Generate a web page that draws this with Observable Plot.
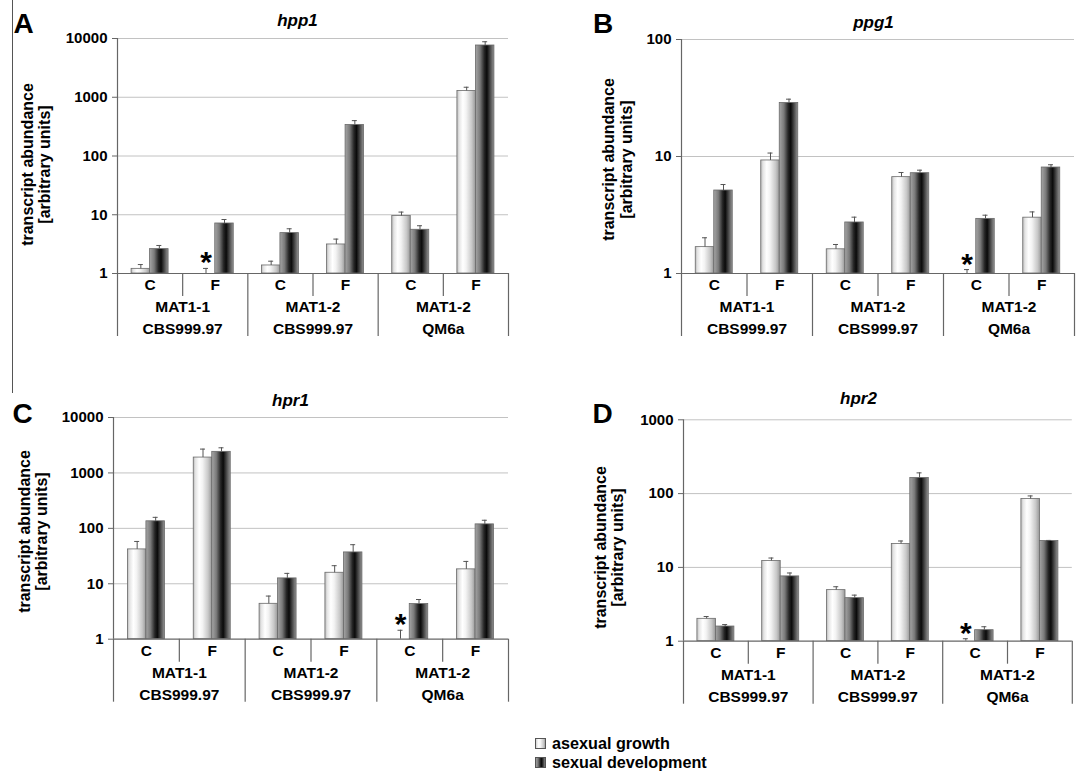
<!DOCTYPE html>
<html>
<head>
<meta charset="utf-8">
<script src="https://cdn.jsdelivr.net/npm/d3@7"></script>
<script src="https://cdn.jsdelivr.net/npm/@observablehq/plot@0.6"></script>
<style>
  html, body { margin: 0; padding: 0; background: #fff; }
  #page { position: relative; width: 1089px; height: 776px; overflow: hidden; background: #fff;
          font-family: "Liberation Sans", Arial, sans-serif; }
  .panel { position: absolute; }
  .panel svg { max-width: none !important; }
  #edge { position: absolute; left: 11.5px; top: 0; width: 1.3px; height: 393px; background: #555; }
  .legend-row { position: absolute; left: 535px; height: 18px; display: flex; align-items: center;
                font-weight: bold; font-size: 16.2px; color: #000; white-space: nowrap; }
  .legend-row svg { margin-right: 6px; }
</style>
</head>
<body>
<svg width="0" height="0" style="position:absolute">
  <defs>
    <linearGradient id="gLight" x1="0" x2="1" y1="0" y2="0">
      <stop offset="0" stop-color="#b9b9b9"/>
      <stop offset="0.12" stop-color="#e4e4e4"/>
      <stop offset="0.32" stop-color="#ffffff"/>
      <stop offset="0.5" stop-color="#f3f3f3"/>
      <stop offset="0.8" stop-color="#c8c8c8"/>
      <stop offset="1" stop-color="#999999"/>
    </linearGradient>
    <linearGradient id="gDark" x1="0" x2="1" y1="0" y2="0">
      <stop offset="0" stop-color="#a6a6a6"/>
      <stop offset="0.25" stop-color="#7a7a7a"/>
      <stop offset="0.48" stop-color="#262626"/>
      <stop offset="0.62" stop-color="#0a0a0a"/>
      <stop offset="0.8" stop-color="#4a4a4a"/>
      <stop offset="1" stop-color="#939393"/>
    </linearGradient>
  </defs>
</svg>
<div id="page">
  <div id="edge"></div>
</div>
<script>
// ---------------- data ----------------
const conditions = ["C", "F", "C", "F", "C", "F"];
const categoryGroup = [0, 0, 1, 1, 2, 2];
const matingTypes = ["MAT1-1", "MAT1-2", "MAT1-2"];
const strains = ["CBS999.97", "CBS999.97", "QM6a"];
const seriesNames = ["asexual growth", "sexual development"];

// hpp1 (A)
const hpp1Ticks = [1, 10, 100, 1000, 10000];
const hpp1Asexual    = [1.2, null, 1.37, 3.12, 9.5, 1280];
const hpp1AsexualErr = [1.42, 1.22, 1.62, 3.85, 11.1, 1480];
const hpp1Sexual     = [2.6, 7.1, 4.87, 337, 5.55, 7600];
const hpp1SexualErr  = [3.0, 8.3, 5.77, 400, 6.5, 8800];

// ppg1 (B)
const ppg1Ticks = [1, 10, 100];
const ppg1Asexual    = [1.68, 9.25, 1.61, 6.66, null, 3.0];
const ppg1AsexualErr = [2.02, 10.7, 1.77, 7.3, 1.08, 3.36];
const ppg1Sexual     = [5.12, 28.7, 2.73, 7.2, 2.93, 8.05];
const ppg1SexualErr  = [5.76, 30.9, 3.03, 7.64, 3.15, 8.5];

// hpr1 (C)
const hpr1Ticks = [1, 10, 100, 1000, 10000];
const hpr1Asexual    = [41.7, 1893, 4.35, 15.8, null, 18.2];
const hpr1AsexualErr = [58, 2690, 6.0, 21.2, 1.45, 25.3];
const hpr1Sexual     = [134, 2400, 12.5, 36.8, 4.3, 118];
const hpr1SexualErr  = [158, 2840, 15.4, 50.7, 5.2, 140];

// hpr2 (D)
const hpr2Ticks = [1, 10, 100, 1000];
const hpr2Asexual    = [2.01, 12.2, 4.92, 20.8, null, 84.5];
const hpr2AsexualErr = [2.16, 13.4, 5.47, 22.8, 1.08, 93];
const hpr2Sexual     = [1.58, 7.55, 3.83, 163, 1.41, 22.8];
const hpr2SexualErr  = [1.68, 8.4, 4.21, 191, 1.57, 23.2];

// ---------------- layout ----------------
const panels = [
  { gene: "hpp1", letter: "A", ticks: hpp1Ticks, asex: hpp1Asexual, asexErr: hpp1AsexualErr, sex: hpp1Sexual, sexErr: hpp1SexualErr,
    box: { left: 0, top: 0, width: 545, height: 370, marginLeft: 117, marginRight: 37, marginTop: 38, marginBottom: 97 },
    letterPos: [23, 24], titlePos: [297, 20], ylabelPos: [27, 44, 164] },
  { gene: "ppg1", letter: "B", ticks: ppg1Ticks, asex: ppg1Asexual, asexErr: ppg1AsexualErr, sex: ppg1Sexual, sexErr: ppg1SexualErr,
    box: { left: 545, top: 0, width: 544, height: 370, marginLeft: 136, marginRight: 15, marginTop: 39, marginBottom: 97 },
    letterPos: [57.5, 24], titlePos: [328, 22], ylabelPos: [63, 81, 159] },
  { gene: "hpr1", letter: "C", ticks: hpr1Ticks, asex: hpr1Asexual, asexErr: hpr1AsexualErr, sex: hpr1Sexual, sexErr: hpr1SexualErr,
    box: { left: 0, top: 370, width: 545, height: 370, marginLeft: 113, marginRight: 37, marginTop: 47, marginBottom: 101.3 },
    letterPos: [22, 44], titlePos: [290, 30], ylabelPos: [24, 41, 161] },
  { gene: "hpr2", letter: "D", ticks: hpr2Ticks, asex: hpr2Asexual, asexErr: hpr2AsexualErr, sex: hpr2Sexual, sexErr: hpr2SexualErr,
    box: { left: 545, top: 370, width: 544, height: 370, marginLeft: 138, marginRight: 17.2, marginTop: 49.3, marginBottom: 99.3 },
    letterPos: [57, 44], titlePos: [313, 28], ylabelPos: [55, 72, 177] }
];

const FONT = "Liberation Sans, Arial, Helvetica, sans-serif";
const BAR_W = 18.5;
const CAP_HALF = 2.5;
const INNER_SEP = 23;
const GROUP_SEP = 63;

function makePanel(cfg) {
  const { box, ticks } = cfg;
  const keys = conditions.map((c, i) => String(i));
  const frameW = box.width - box.marginLeft - box.marginRight;
  const bw = frameW / keys.length;
  const pad = bw / 2 - BAR_W;
  const base = ticks[0];
  const rows = keys.map((key, i) => ({
    key, i, cond: conditions[i], group: categoryGroup[i],
    asex: cfg.asex[i], asexErr: cfg.asexErr[i], sex: cfg.sex[i], sexErr: cfg.sexErr[i]
  }));
  const isStart = (d) => d.i === 0 || categoryGroup[d.i] !== categoryGroup[d.i - 1];
  const starts = rows.filter(isStart);
  const inners = rows.filter((d) => !isStart(d));
  const local = ([x, y]) => ({ frameAnchor: "top-left", dx: x - box.marginLeft, dy: y - box.marginTop });
  const txt = { fontFamily: FONT, fontWeight: "bold", fill: "#000" };

  return Plot.plot({
    width: box.width, height: box.height,
    marginLeft: box.marginLeft, marginRight: box.marginRight,
    marginTop: box.marginTop, marginBottom: box.marginBottom,
    style: { fontFamily: FONT, fontSize: "15px", fontWeight: "bold", background: "transparent", overflow: "visible", color: "#000", maxWidth: "none" },
    x: { type: "band", domain: keys, padding: 0, round: false, axis: null },
    y: { type: "log", domain: [base, ticks[ticks.length - 1]], axis: null },
    marks: [
      Plot.gridY(ticks.filter((t) => t > base), { stroke: "#c2c2c2", strokeOpacity: 1, strokeWidth: 1 }),
      // bars
      Plot.barY(rows.filter((d) => d.asex != null), {
        x: "key", y1: () => base, y2: "asex", fill: "url(#gLight)", stroke: "#6a6a6a", strokeWidth: 0.8,
        insetLeft: pad, insetRight: bw / 2
      }),
      Plot.barY(rows.filter((d) => d.sex != null), {
        x: "key", y1: () => base, y2: "sex", fill: "url(#gDark)", stroke: "#6a6a6a", strokeWidth: 0.8,
        insetLeft: bw / 2, insetRight: pad
      }),
      // error bars
      Plot.ruleX(rows, { x: "key", y1: (d) => d.asex ?? base, y2: "asexErr", dx: -BAR_W / 2, stroke: "#555", strokeWidth: 1 }),
      Plot.tickY(rows, { x: "key", y: "asexErr", insetLeft: bw / 2 - BAR_W / 2 - CAP_HALF, insetRight: bw / 2 + BAR_W / 2 - CAP_HALF, stroke: "#555", strokeWidth: 1 }),
      Plot.ruleX(rows, { x: "key", y1: "sex", y2: "sexErr", dx: BAR_W / 2, stroke: "#555", strokeWidth: 1 }),
      Plot.tickY(rows, { x: "key", y: "sexErr", insetLeft: bw / 2 + BAR_W / 2 - CAP_HALF, insetRight: bw / 2 - BAR_W / 2 - CAP_HALF, stroke: "#555", strokeWidth: 1 }),
      // asterisks for undetected transcripts
      Plot.text(rows.filter((d) => d.asex == null), {
        x: "key", y: "asexErr", text: () => "*", dx: -BAR_W / 2, dy: 4, lineAnchor: "bottom",
        fontSize: 30, ...txt
      }),
      // axes lines
      Plot.ruleY([base], { stroke: "#666", strokeWidth: 1.2 }),
      Plot.ruleX([keys[0]], { dx: -bw / 2, stroke: "#666", strokeWidth: 1.2 }),
      Plot.ruleX(starts, { x: "key", y1: () => base, y2: () => base, insetBottom: -GROUP_SEP, dx: -bw / 2, stroke: "#666", strokeWidth: 1.2 }),
      Plot.ruleX([keys[keys.length - 1]], { y1: () => base, y2: () => base, insetBottom: -GROUP_SEP, dx: bw / 2, stroke: "#666", strokeWidth: 1.2 }),
      Plot.ruleX(inners, { x: "key", y1: () => base, y2: () => base, insetBottom: -INNER_SEP, dx: -bw / 2, stroke: "#666", strokeWidth: 1.2 }),
      // category labels
      Plot.text(rows, { x: "key", y: () => base, text: "cond", dy: 11.5, lineAnchor: "middle", fontSize: 15.5, ...txt }),
      Plot.text(starts, { x: "key", y: () => base, text: (d) => matingTypes[d.group], dx: bw / 2, dy: 34, lineAnchor: "middle", fontSize: 15.5, ...txt }),
      Plot.text(starts, { x: "key", y: () => base, text: (d) => strains[d.group], dx: bw / 2, dy: 55.5, lineAnchor: "middle", fontSize: 15.5, ...txt }),
      // y axis
      Plot.axisY({ ticks, tickFormat: d3.format("d"), tickSize: 5, tickPadding: 5, label: null, stroke: "#666", fill: "#000", fontSize: 15, fontWeight: "bold", fontFamily: FONT }),
      // panel letter, gene title, y label
      Plot.text([cfg.letter], { ...local(cfg.letterPos), text: (d) => d, textAnchor: "middle", lineAnchor: "middle", fontSize: 28, ...txt }),
      Plot.text([cfg.gene], { ...local(cfg.titlePos), text: (d) => d, textAnchor: "middle", lineAnchor: "middle", fontSize: 17, fontStyle: "italic", ...txt }),
      Plot.text(["transcript abundance"], { ...local([cfg.ylabelPos[0], cfg.ylabelPos[2]]), text: (d) => d, rotate: -90, textAnchor: "middle", lineAnchor: "middle", fontSize: 16, ...txt }),
      Plot.text(["[arbitrary units]"], { ...local([cfg.ylabelPos[1], cfg.ylabelPos[2]]), text: (d) => d, rotate: -90, textAnchor: "middle", lineAnchor: "middle", fontSize: 16, ...txt })
    ]
  });
}

const page = document.getElementById("page");
for (const cfg of panels) {
  const holder = document.createElement("div");
  holder.className = "panel";
  holder.style.left = cfg.box.left + "px";
  holder.style.top = cfg.box.top + "px";
  holder.style.width = cfg.box.width + "px";
  holder.appendChild(makePanel(cfg));
  page.appendChild(holder);
}

// legend
const legendTops = [734, 753];
const legendFills = ["url(#gLight)", "url(#gDark)"];
seriesNames.forEach((name, i) => {
  const row = document.createElement("div");
  row.className = "legend-row";
  row.style.top = legendTops[i] + "px";
  row.innerHTML = `<svg width="11" height="11"><rect x="0.5" y="0.5" width="10" height="10" fill="${legendFills[i]}" stroke="#555" stroke-width="1"/></svg><span>${name}</span>`;
  page.appendChild(row);
});
</script>
</body>
</html>
